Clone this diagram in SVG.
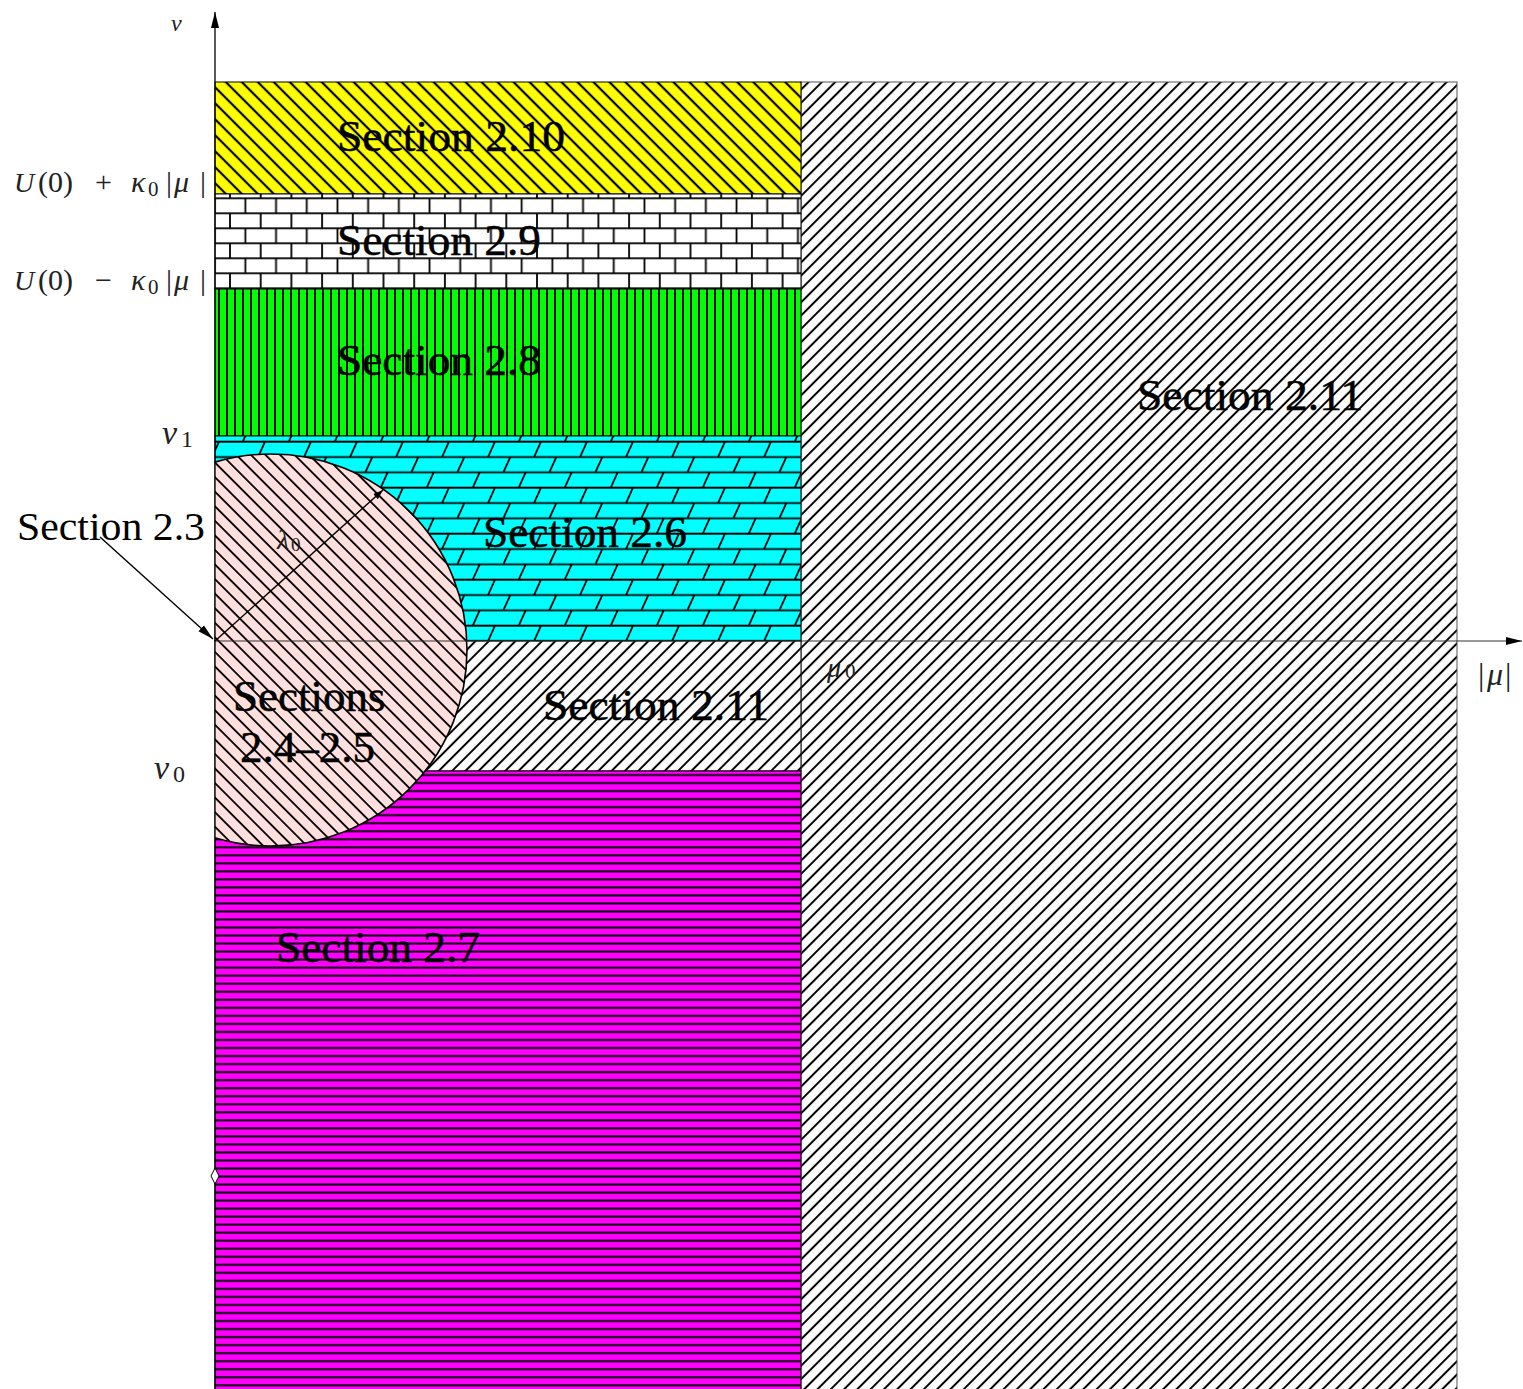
<svg xmlns="http://www.w3.org/2000/svg" width="1523" height="1389" viewBox="0 0 1523 1389">
<style>
.rg{stroke:#000;stroke-width:1}
.lbl{font-family:"Liberation Serif","Times New Roman",serif;font-size:45px;fill:#000;stroke:#000;stroke-width:0.5}
.m{font-family:"Liberation Serif","Times New Roman",serif;fill:#222}
.it{font-style:italic}
.ax{stroke:#000;stroke-width:1.3;fill:none}
</style>
<defs>
<pattern id="hYel" patternUnits="userSpaceOnUse" width="11.3" height="11.3" patternTransform="rotate(-45)">
<line x1="0" y1="0" x2="0" y2="11.3" stroke="#000" stroke-width="2.2"/>
<line x1="11.3" y1="0" x2="11.3" y2="11.3" stroke="#000" stroke-width="2.2"/>
</pattern>
<pattern id="hRight" patternUnits="userSpaceOnUse" width="9.4" height="9.4" patternTransform="rotate(45)">
<line x1="0" y1="0" x2="0" y2="9.4" stroke="#000" stroke-width="2"/>
<line x1="9.4" y1="0" x2="9.4" y2="9.4" stroke="#000" stroke-width="2"/>
</pattern>
<pattern id="hCirc" patternUnits="userSpaceOnUse" width="10.3" height="10.3" patternTransform="rotate(-45)">
<line x1="0" y1="0" x2="0" y2="10.3" stroke="#000" stroke-width="1.8"/>
<line x1="10.3" y1="0" x2="10.3" y2="10.3" stroke="#000" stroke-width="1.8"/>
</pattern>
<pattern id="pVert" patternUnits="userSpaceOnUse" x="215" y="0" width="8" height="10">
<line x1="4" y1="0" x2="4" y2="10" stroke="#000" stroke-width="2"/>
</pattern>
<pattern id="pHor" patternUnits="userSpaceOnUse" x="0" y="771" width="10" height="8.03">
<line x1="0" y1="4" x2="10" y2="4" stroke="#000" stroke-width="2"/>
</pattern>
<pattern id="pBrick" patternUnits="userSpaceOnUse" x="230" y="183.3" width="30.7" height="30">
<line x1="0" y1="0" x2="30.7" y2="0" stroke="#000" stroke-width="1.8"/>
<line x1="0" y1="15" x2="30.7" y2="15" stroke="#000" stroke-width="1.8"/>
<line x1="0" y1="30" x2="30.7" y2="30" stroke="#000" stroke-width="1.8"/>
<line x1="0" y1="0" x2="0" y2="15" stroke="#000" stroke-width="1.8"/>
<line x1="30.7" y1="0" x2="30.7" y2="15" stroke="#000" stroke-width="1.8"/>
<line x1="15.35" y1="15" x2="15.35" y2="30" stroke="#000" stroke-width="1.8"/>
</pattern>
<pattern id="pShingle" patternUnits="userSpaceOnUse" x="350" y="441.7" width="46" height="46">
<line x1="0" y1="0" x2="46" y2="0" stroke="#000" stroke-width="1.8"/>
<line x1="0" y1="15.33" x2="46" y2="15.33" stroke="#000" stroke-width="1.8"/>
<line x1="0" y1="30.67" x2="46" y2="30.67" stroke="#000" stroke-width="1.8"/>
<line x1="0" y1="46" x2="46" y2="46" stroke="#000" stroke-width="1.8"/>
<line x1="0" y1="15.33" x2="7" y2="0" stroke="#000" stroke-width="1.8"/>
<line x1="46" y1="15.33" x2="53" y2="0" stroke="#000" stroke-width="1.8"/>
<line x1="15.33" y1="30.67" x2="22.33" y2="15.33" stroke="#000" stroke-width="1.8"/>
<line x1="30.67" y1="46" x2="37.67" y2="30.67" stroke="#000" stroke-width="1.8"/>
</pattern>
<clipPath id="clipRight"><rect x="215" y="0" width="1308" height="1389"/></clipPath>
<marker id="ah" viewBox="0 0 10 10" refX="10" refY="5" markerWidth="10" markerHeight="10" markerUnits="userSpaceOnUse" orient="auto">
<path d="M0,1.5 L10,5 L0,8.5 z" fill="#000"/>
</marker>
<marker id="ahBig" viewBox="0 0 16 10" refX="16" refY="5" markerWidth="16" markerHeight="10" markerUnits="userSpaceOnUse" orient="auto">
<path d="M0,1 L16,5 L0,9 z" fill="#000"/>
</marker>
</defs>
<rect x="0" y="0" width="1523" height="1389" fill="#fff"/>

<g id="region-2-11-right">
<rect x="801" y="82" width="656" height="1320" fill="#fff"/>
<rect x="801" y="82" width="656" height="1320" fill="url(#hRight)" stroke="#555" stroke-width="1"/>
</g>
<g id="region-2-10">
<rect x="215" y="82" width="586" height="112" fill="#ffff00"/>
<rect x="215" y="82" width="586" height="112" fill="url(#hYel)" class="rg"/>
</g>
<g id="region-2-9">
<rect x="215" y="194" width="586" height="95" fill="#fff"/>
<rect x="215" y="194" width="586" height="95" fill="url(#pBrick)" class="rg"/>
</g>
<g id="region-2-8">
<rect x="215" y="289" width="586" height="147" fill="#00ff00"/>
<rect x="215" y="289" width="586" height="147" fill="url(#pVert)" class="rg"/>
</g>
<g id="region-2-6">
<rect x="215" y="436" width="586" height="205" fill="#00ffff"/>
<rect x="215" y="436" width="586" height="205" fill="url(#pShingle)" class="rg"/>
</g>
<g id="region-2-11-low">
<rect x="215" y="641" width="586" height="130" fill="#fff"/>
<rect x="215" y="641" width="586" height="130" fill="url(#hRight)" class="rg"/>
</g>
<g id="region-2-7">
<rect x="215" y="771" width="586" height="630" fill="#ff00ff"/>
<rect x="215" y="771" width="586" height="630" fill="url(#pHor)" class="rg"/>
</g>
<g id="region-2-4-2-5" clip-path="url(#clipRight)">
<circle cx="271" cy="650" r="196" fill="#ffe0de"/>
<circle cx="271" cy="650" r="196" fill="url(#hCirc)" stroke="#000" stroke-width="1.6"/>
</g>

<g id="connectors">
<line x1="215" y1="1389" x2="215" y2="12" class="ax" marker-end="url(#ahBig)"/>
<line x1="215" y1="641" x2="1522" y2="641" stroke="#333" stroke-width="1.1" marker-end="url(#ahBig)"/>
<line x1="215" y1="641" x2="383" y2="490" stroke="#000" stroke-width="1.4" marker-end="url(#ah)"/>
<line x1="100" y1="537" x2="213" y2="639" stroke="#000" stroke-width="1.4" marker-end="url(#ahBig)"/>
</g>
<g id="diamond">
<polygon points="215,1168 219,1176 215,1184 211,1176" fill="#fff" stroke="#000" stroke-width="1"/>
</g>

<g id="labels">
<text class="lbl" x="337" y="151" textLength="228" lengthAdjust="spacingAndGlyphs">Section 2.10</text>
<text class="lbl" x="337" y="255" textLength="204" lengthAdjust="spacingAndGlyphs">Section 2.9</text>
<text class="lbl" x="337" y="375" textLength="204" lengthAdjust="spacingAndGlyphs">Section 2.8</text>
<text class="lbl" x="1137" y="410" textLength="226" lengthAdjust="spacingAndGlyphs">Section 2.11</text>
<text class="lbl" x="483" y="547" textLength="204" lengthAdjust="spacingAndGlyphs">Section 2.6</text>
<text class="lbl" x="543" y="720" textLength="226" lengthAdjust="spacingAndGlyphs">Section 2.11</text>
<text class="lbl" x="233" y="711">Sections</text>
<text class="lbl" x="240" y="762">2.4–2.5</text>
<text class="lbl" x="276" y="962" textLength="204" lengthAdjust="spacingAndGlyphs">Section 2.7</text>
<text x="17" y="540" style="font-family:'Liberation Serif','Times New Roman',serif;font-size:41px;fill:#000" textLength="188" lengthAdjust="spacingAndGlyphs">Section 2.3</text>

<text class="m it" x="171" y="31" font-size="24">ν</text>
<text class="m" y="192" font-size="30"><tspan x="14" class="it" font-size="28">U</tspan><tspan x="38">(0)</tspan><tspan x="95">+</tspan><tspan x="131" class="it">κ</tspan><tspan x="148" dy="4" font-size="21">0</tspan><tspan x="166" dy="-4">|</tspan><tspan x="174" class="it">μ</tspan><tspan x="200">|</tspan></text>
<text class="m" y="290" font-size="30"><tspan x="14" class="it" font-size="28">U</tspan><tspan x="38">(0)</tspan><tspan x="95">−</tspan><tspan x="131" class="it">κ</tspan><tspan x="148" dy="4" font-size="21">0</tspan><tspan x="166" dy="-4">|</tspan><tspan x="174" class="it">μ</tspan><tspan x="200">|</tspan></text>
<text class="m" y="444" font-size="34"><tspan x="162" class="it">ν</tspan><tspan x="181" dy="3" font-size="24">1</tspan></text>
<text class="m" y="779" font-size="34"><tspan x="154" class="it">ν</tspan><tspan x="173" dy="3" font-size="24">0</tspan></text>
<text class="m" y="677" font-size="28" fill="#555"><tspan x="827" class="it">μ</tspan><tspan x="845" dy="1" font-size="21">0</tspan></text>
<text class="m" y="685" font-size="32"><tspan x="1478">|</tspan><tspan x="1487" class="it">μ</tspan><tspan x="1505">|</tspan></text>
<text class="m" y="549" font-size="28" fill="#555"><tspan x="277" class="it">λ</tspan><tspan x="291" dy="2" font-size="19">0</tspan></text>
</g>
</svg>
